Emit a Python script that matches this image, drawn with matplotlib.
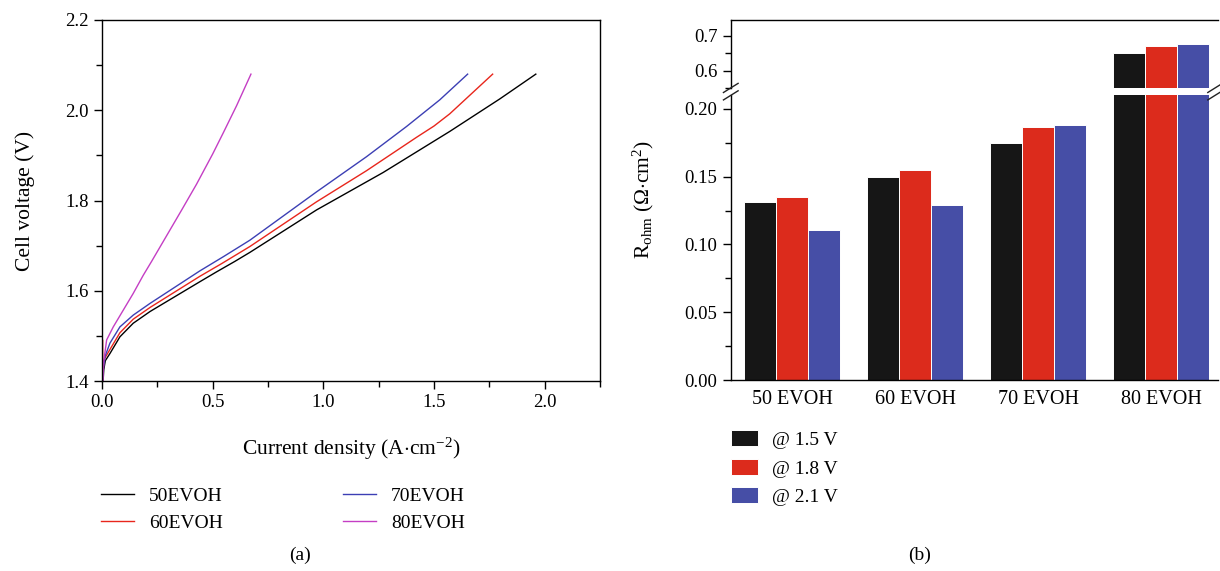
import numpy as np
import matplotlib
matplotlib.use('Agg')
from matplotlib import pyplot as plt
from matplotlib.ticker import MultipleLocator, FormatStrFormatter

plt.rcParams['font.family'] = ['Liberation Serif', 'DejaVu Serif']
plt.rcParams['mathtext.fontset'] = 'custom'
plt.rcParams['mathtext.rm'] = 'Liberation Serif'
plt.rcParams['mathtext.it'] = 'Liberation Serif:italic'
plt.rcParams['font.size'] = 13.5

# (a) polarization curves
j_50 = [0.005, 0.008, 0.015, 0.036, 0.081, 0.141, 0.217, 0.292, 0.367, 0.442, 0.518, 0.600,
        0.668, 0.969, 1.270, 1.571, 1.797, 1.96]
v_50 = [1.40, 1.425, 1.445, 1.461, 1.498, 1.528, 1.554, 1.576, 1.598, 1.620, 1.642, 1.665,
        1.685, 1.779, 1.862, 1.953, 2.025, 2.080]
j_60 = [0.003, 0.003, 0.006, 0.012, 0.036, 0.081, 0.141, 0.217, 0.292, 0.367, 0.442, 0.540,
        0.668, 0.969, 1.195, 1.421, 1.50, 1.571, 1.765]
v_60 = [1.49, 1.40, 1.43, 1.45, 1.470, 1.507, 1.537, 1.563, 1.586, 1.609, 1.632, 1.660,
        1.698, 1.797, 1.866, 1.940, 1.965, 1.992, 2.080]
j_70 = [0.004, 0.007, 0.014, 0.036, 0.081, 0.141, 0.217, 0.292, 0.367, 0.442, 0.550,
        0.668, 0.969, 1.195, 1.376, 1.526, 1.652]
v_70 = [1.40, 1.43, 1.455, 1.484, 1.520, 1.546, 1.572, 1.596, 1.620, 1.644, 1.676,
        1.712, 1.819, 1.897, 1.964, 2.023, 2.080]
j_80 = [0.004, 0.007, 0.021, 0.051, 0.096, 0.141, 0.186, 0.224, 0.292, 0.360, 0.427, 0.500,
        0.548, 0.608, 0.673]
v_80 = [1.40, 1.44, 1.491, 1.520, 1.557, 1.594, 1.634, 1.665, 1.722, 1.779, 1.836, 1.903,
        1.950, 2.010, 2.080]
curve_labels = ['50EVOH', '60EVOH', '70EVOH', '80EVOH']
curve_colors = ['#000000', '#e8261c', '#3c3fb4', '#c43ec4']

# (b) ohmic resistance
categories = ['50 EVOH', '60 EVOH', '70 EVOH', '80 EVOH']
r_15 = [0.131, 0.150, 0.175, 0.651]
r_18 = [0.135, 0.155, 0.187, 0.671]
r_21 = [0.111, 0.129, 0.188, 0.675]
bar_labels = ['@ 1.5 V', '@ 1.8 V', '@ 2.1 V']
bar_colors = ['#161616', '#dc2b1c', '#464ea6']

fig = plt.figure(figsize=(12.2, 5.71), dpi=100)

# ---- panel (a)
ax = fig.add_axes([0.0836, 0.3327, 0.4082, 0.6323])
for jj, vv, lab, col in zip([j_50, j_60, j_70, j_80], [v_50, v_60, v_70, v_80],
                            curve_labels, curve_colors):
    ax.plot(jj, vv, color=col, lw=1.0, label=lab)
ax.set_xlim(0, 2.25)
ax.set_ylim(1.4, 2.2)
ax.xaxis.set_major_locator(MultipleLocator(0.5))
ax.xaxis.set_minor_locator(MultipleLocator(0.25))
ax.yaxis.set_major_locator(MultipleLocator(0.2))
ax.yaxis.set_minor_locator(MultipleLocator(0.1))
ax.tick_params(which='major', length=6, width=1)
ax.tick_params(which='minor', length=4, width=1)
for s in ax.spines.values():
    s.set_linewidth(1.0)
ax.set_xlabel('Current density (A$\\cdot$cm$^{-2}$)', labelpad=18, fontsize=15.5)
ax.set_ylabel('Cell voltage (V)', labelpad=22, fontsize=15.5)
ax.legend(ncol=2, frameon=False, loc='upper left', bbox_to_anchor=(-0.037, -0.245),
          handlelength=1.7, handletextpad=0.75, columnspacing=6.2, labelspacing=0.5,
          fontsize=14)
fig.text(0.246, 0.027, '(a)', ha='center', va='center', fontsize=14)

# ---- panel (b), broken y axis
x = np.arange(len(categories))
w = 0.26
axl = fig.add_axes([0.599, 0.3345, 0.399, 0.4985])
axu = fig.add_axes([0.599, 0.846, 0.399, 0.119])
for a in (axl, axu):
    for k, (vals, lab, col) in enumerate(zip([r_15, r_18, r_21], bar_labels, bar_colors)):
        a.bar(x + (k - 1) * w, vals, w, color=col, edgecolor='white', lw=0.7, label=lab)
    a.set_xlim(-0.5, 3.46)
    a.spines['right'].set_visible(False)
    for s in a.spines.values():
        s.set_linewidth(1.0)
    a.tick_params(which='major', length=6, width=1)
    a.tick_params(which='minor', length=4, width=1)

axl.set_ylim(0, 0.21)
axl.spines['top'].set_visible(False)
axl.yaxis.set_major_locator(MultipleLocator(0.05))
axl.yaxis.set_minor_locator(MultipleLocator(0.025))
axl.yaxis.set_major_formatter(FormatStrFormatter('%.2f'))
axl.set_xticks(x)
axl.set_xticklabels(categories, fontsize=14.5)
axl.tick_params(axis='x', length=0, pad=7)

axu.set_ylim(0.55, 0.745)
axu.spines['bottom'].set_visible(False)
axu.set_xticks([])
axu.yaxis.set_major_locator(MultipleLocator(0.1))
axu.yaxis.set_minor_locator(MultipleLocator(0.05))
axu.yaxis.set_major_formatter(FormatStrFormatter('%.1f'))

# break marks
for xb in (0.599, 0.996):
    for yb in (0.846, 0.833):
        fig.add_artist(plt.Line2D([xb - 0.006, xb + 0.006], [yb - 0.008, yb + 0.008],
                                  color='#222222', lw=1.0))

fig.text(0.527, 0.65, 'R$_{\\mathrm{ohm}}$ ($\\mathit{\\Omega}$$\\cdot$cm$^{2}$)',
         rotation=90, ha='center', va='center', fontsize=15.5)
axl.legend(frameon=False, loc='upper left', bbox_to_anchor=(-0.035, -0.115),
           handlelength=1.4, handleheight=0.9, handletextpad=0.7, labelspacing=0.5,
           fontsize=14)
fig.text(0.754, 0.027, '(b)', ha='center', va='center', fontsize=14)

fig.savefig('out.png', dpi=100)
